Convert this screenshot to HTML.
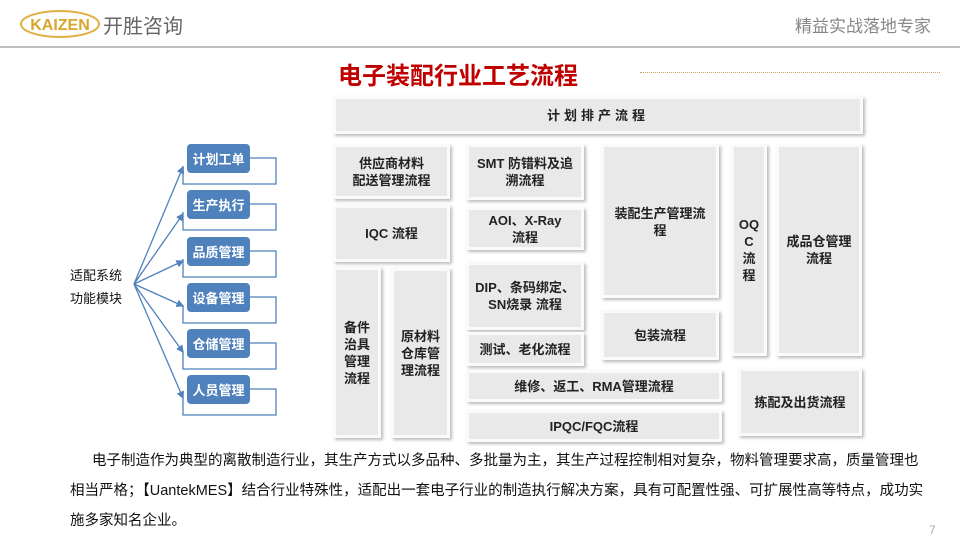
<!DOCTYPE html>
<html><head><meta charset="utf-8"><style>
*{margin:0;padding:0;box-sizing:border-box}
body{width:960px;height:540px;position:relative;background:#fff;overflow:hidden;font-family:"Liberation Sans","Noto Sans CJK SC",sans-serif}
.a{position:absolute}
.b{position:absolute;background:#e9e9e9;border:3px solid #fafafa;box-shadow:2px 2px 3px #bbb;display:flex;align-items:center;justify-content:center;text-align:center;font-size:13px;font-weight:bold;color:#222;line-height:17px}
.m{position:absolute;left:187px;width:63px;height:29px;background:#4f81bd;border-radius:4px;color:#fff;font-size:13px;font-weight:bold;display:flex;align-items:center;justify-content:center}
.p{position:absolute;left:70px;font-size:14.5px;color:#111;white-space:nowrap}
</style></head><body>
<svg class="a" style="left:18px;top:6px" width="85" height="36"><ellipse cx="42" cy="18" rx="39" ry="13" fill="none" stroke="#e0b040" stroke-width="2"/><text x="42" y="24" font-size="16" font-weight="bold" fill="#d9a52c" text-anchor="middle" font-family="Liberation Sans">KAIZEN</text></svg>
<div class="a" style="left:103px;top:10px;font-size:20px;color:#666">开胜咨询</div>
<div class="a" style="left:0;top:46px;width:960px;height:2px;background:#bfbfbf"></div>
<div class="a" style="left:795px;top:12px;font-size:17px;color:#888">精益实战落地专家</div>
<div class="a" style="left:338px;top:56px;font-size:24px;font-weight:bold;color:#c00000">电子装配行业工艺流程</div>
<div class="a" style="left:640px;top:72px;width:300px;border-top:1px dotted #c9a060"></div>

<div class="b" style="left:333px;top:96px;width:530px;height:38px;letter-spacing:4px">计划排产流程</div>
<div class="b" style="left:333px;top:144px;width:117px;height:55px">供应商材料<br>配送管理流程</div>
<div class="b" style="left:333px;top:205px;width:117px;height:57px">IQC 流程</div>
<div class="b" style="left:333px;top:267px;width:48px;height:171px">备件<br>治具<br>管理<br>流程</div>
<div class="b" style="left:391px;top:268px;width:59px;height:170px">原材料<br>仓库管<br>理流程</div>
<div class="b" style="left:466px;top:144px;width:118px;height:56px">SMT 防错料及追<br>溯流程</div>
<div class="b" style="left:466px;top:207px;width:118px;height:43px">AOI、X-Ray<br>流程</div>
<div class="b" style="left:466px;top:262px;width:118px;height:68px">DIP、条码绑定、<br>SN烧录 流程</div>
<div class="b" style="left:466px;top:332px;width:118px;height:34px">测试、老化流程</div>
<div class="b" style="left:466px;top:370px;width:256px;height:32px">维修、返工、RMA管理流程</div>
<div class="b" style="left:466px;top:410px;width:256px;height:32px">IPQC/FQC流程</div>
<div class="b" style="left:601px;top:144px;width:118px;height:154px;align-items:flex-start;padding-top:58px">装配生产管理流<br>程</div>
<div class="b" style="left:601px;top:310px;width:118px;height:50px">包装流程</div>
<div class="b" style="left:731px;top:144px;width:36px;height:212px">OQ<br>C<br>流<br>程</div>
<div class="b" style="left:776px;top:144px;width:86px;height:212px">成品仓管理<br>流程</div>
<div class="b" style="left:738px;top:368px;width:124px;height:68px">拣配及出货流程</div>

<div class="a" style="left:70px;top:264px;font-size:13px;line-height:23px;color:#111">适配系统<br>功能模块</div>
<svg class="a" style="left:0;top:0" width="300" height="420">
<defs><marker id="ar" markerWidth="6" markerHeight="6" refX="5" refY="3" orient="auto"><path d="M0,0L6,3L0,6z" fill="#4f81bd"/></marker></defs>
<g stroke="#4f81bd" stroke-width="1.3" fill="none">
<path d="M250,158H276V184H183V166"/><path d="M250,204H276V230H183V212"/><path d="M250,251H276V277H183V259"/>
<path d="M250,297H276V323H183V305"/><path d="M250,343H276V369H183V351"/><path d="M250,389H276V415H183V397"/>
<g marker-end="url(#ar)"><line x1="134" y1="284" x2="183" y2="167"/><line x1="134" y1="284" x2="183" y2="214"/><line x1="134" y1="284" x2="183" y2="261"/><line x1="134" y1="284" x2="183" y2="306"/><line x1="134" y1="284" x2="183" y2="352"/><line x1="134" y1="284" x2="183" y2="398"/></g>
</g></svg>
<div class="m" style="top:144px">计划工单</div>
<div class="m" style="top:190px">生产执行</div>
<div class="m" style="top:237px">品质管理</div>
<div class="m" style="top:283px">设备管理</div>
<div class="m" style="top:329px">仓储管理</div>
<div class="m" style="top:375px">人员管理</div>

<div class="p" style="top:449px;left:92px">电子制造作为典型的离散制造行业，其生产方式以多品种、多批量为主，其生产过程控制相对复杂，物料管理要求高，质量管理也</div>
<div class="p" style="top:479px">相当严格；【UantekMES】结合行业特殊性，适配出一套电子行业的制造执行解决方案，具有可配置性强、可扩展性高等特点，成功实</div>
<div class="p" style="top:509px">施多家知名企业。</div>
<div class="a" style="left:929px;top:523px;font-size:12px;color:#aaa">7</div>
</body></html>
